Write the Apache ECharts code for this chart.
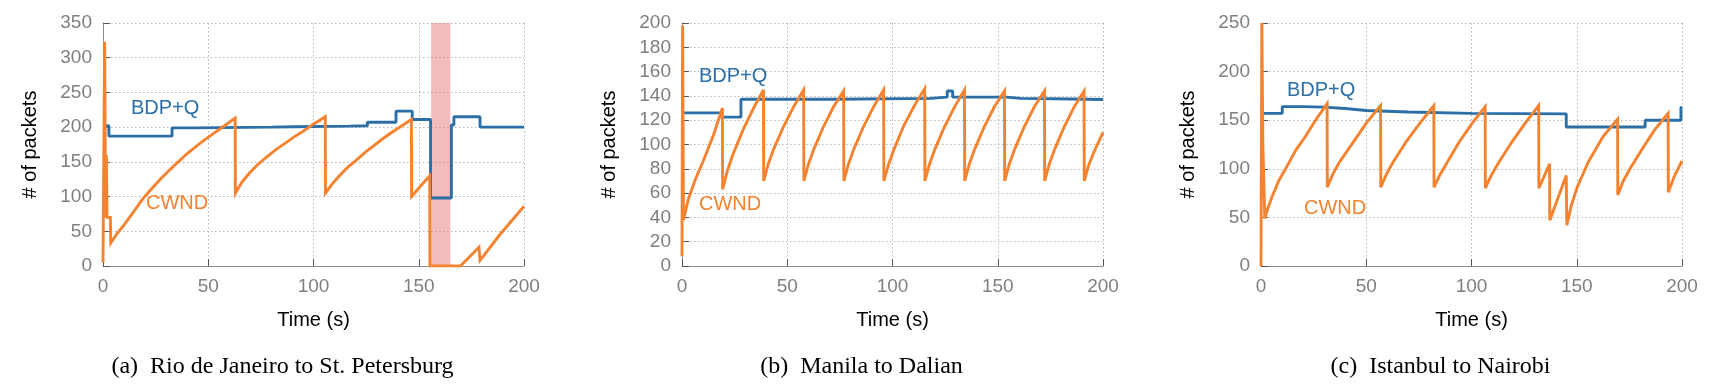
<!DOCTYPE html>
<html><head><meta charset="utf-8">
<script src="https://cdn.jsdelivr.net/npm/echarts@6/dist/echarts.min.js"></script>
<style>html,body{margin:0;padding:0;background:#fff;} #c{width:1717px;height:391px;}</style>
</head><body><div id="c"></div>
<script>
// ---- data ----
const captions = ['(a)  Rio de Janeiro to St. Petersburg', '(b)  Manila to Dalian', '(c)  Istanbul to Nairobi'];
const yMax = [350, 200, 250];
const yInterval = [50, 20, 50];
const xMax = 200;
const xInterval = 50;
const seriesNames = ['BDP+Q', 'CWND'];

// (a) Rio de Janeiro to St. Petersburg
const rioBdpQ = [[0,202],[2.8,187],[32.8,199],[43,200],[80,200.5],[91,201.5],[117,202],[125.6,207],[139.2,223],[146.9,211],[155.6,98],[165.5,203],[166.7,215],[179.1,200],[200,200]];
const rioCwnd = [[0,5],[0.8,323],[1.1,150],[1.3,70],[1.6,160],[1.9,70],[3.5,70],[3.7,33],
  [6.5,46],[10.2,60],[14.5,78],[18.7,96],[23,111],[27.2,125],[31.5,138],[35.7,150],[40,162],[44.1,172],[48.4,182],[52.6,191],[57.7,202],[62.8,213],
  [62.9,105],[66,121],[69.6,134],[73.8,147],[78.1,158],[82.3,168],[86.6,177],[90.8,186],[95.1,194],[100.3,205],[105.6,215],
  [105.7,105],[108.8,118],[112,129],[116.2,142],[120.5,153],[124.7,164],[129,174],[133.2,184],[137.5,193],[142,202],[146.5,211],
  [146.6,100],[151.1,116],[155.2,130],[155.3,0],[169.8,0],[178.6,27],[179.1,8],[188.5,45],[200,86]];
const rioLossBand = [155.9, 165.0];

// (b) Manila to Dalian
const manilaBdpQ = [[0,126],[18.5,122.5],[28,137.3],[72,138],[118,139],[126,144],[128.6,139],[154,138],[161,137.5],[185,137],[200,137]];
const manilaCwnd = [[0,8],[0.3,198],[0.7,38],[3,55],[6.5,72],[10,86],[15,108],[19.2,130],
  [19.3,63],[21.5,78],[24,91],[29,112],[34,130],[38.7,145],
  [38.8,70],[41,84],[43.5,96],[48.3,115],[53,131],[57.8,145],
  [57.9,70],[60.1,84],[62.6,96],[67.3,115],[72,131],[76.8,144],
  [76.9,70],[79.1,84],[81.6,96],[86.3,115],[91,131],[95.8,145],
  [95.9,70],[98.2,84],[100.7,96],[105.5,116],[110.4,132],[115.3,146],
  [115.4,70],[117.6,84],[120.1,96],[124.8,115],[129.5,131],[134.2,145],
  [134.3,70],[136.5,84],[139,96],[143.7,115],[148.4,131],[153.2,144],
  [153.3,70],[155.5,84],[158,96],[162.7,115],[167.4,131],[172.2,144],
  [172.3,70],[174.5,84],[177,96],[181.7,115],[186.3,131],[191,144],
  [191.1,70],[193.2,83],[195.5,93],[200,110]];

// (c) Istanbul to Nairobi
const istanbulBdpQ = [[0,157],[10.1,164],[20,163.5],[30,162],[40,160],[50,158.5],[70,157],[100,156.5],[145,143],[182.5,150],[199.5,163],[200,163]];
const istanbulCwnd = [[0,0],[0.4,250],[0.9,123],[1.2,123],[1.8,49],
  [3.5,61],[5.2,71],[8.5,88],[12.2,102],[16.5,119],[21,133],[26.2,151],[31.4,167],
  [31.5,81],[34,94],[37,106],[44,128],[50,147],[56.8,165],
  [56.9,81],[59.5,94],[62.5,106],[69,128],[75.5,147],[82.1,165],
  [82.2,81],[84.8,93],[88,105],[94,127],[100,146],[106.5,164],
  [106.6,80],[109.3,93],[112.5,105],[119,127],[125.5,147],[131.9,165],
  [132,80],[137.1,105],[137.2,47],[145,93],[145.3,42],
  [147.5,63],[150.2,81],[155.5,107],[162.4,133],[169.4,151],
  [169.5,73],[172,87],[175,99],[181,120],[187,140],[193.4,157],
  [193.5,76],[196.5,93],[200,108]];

const bdpSets = [rioBdpQ, manilaBdpQ, istanbulBdpQ];
const cwndSets = [rioCwnd, manilaCwnd, istanbulCwnd];

// ---- layout / style ----
const BLUE = '#2b6fa6';
const ORANGE = '#f4822f';
const FONT = 'Liberation Sans, Arial, sans-serif';
const gridLeft = [103, 682, 1261];
const gridTop = 23, gridW = 421, gridH = 243;
const labelPos = [
  {bdp:[131,109.5], cwnd:[146,204.5]},
  {bdp:[699,77.5], cwnd:[699,205.7]},
  {bdp:[1287,91.5], cwnd:[1304,209]}
];

const grids = [], xAxes = [], yAxes = [], series = [], graphics = [];
for (let i = 0; i < 3; i++) {
  grids.push({left: gridLeft[i], top: gridTop, width: gridW, height: gridH, containLabel: false});
  const axisCommon = {
    axisLine: {show: true, lineStyle: {color: '#8c8c8c', width: 1}},
    axisTick: {show: true, inside: true, length: 7, lineStyle: {color: '#555'}},
    splitLine: {show: true, lineStyle: {color: '#b5b5b5', type: [1.5, 2.5], width: 1}},
    axisLabel: {color: '#7f7f7f', fontSize: 19, fontFamily: FONT, margin: 11}
  };
  xAxes.push(Object.assign({
    type: 'value', gridIndex: i, min: 0, max: xMax, interval: xInterval,
    name: 'Time (s)', nameLocation: 'middle', nameGap: 44,
    nameTextStyle: {color: '#000', fontSize: 20, fontFamily: FONT}
  }, axisCommon));
  yAxes.push(Object.assign({
    type: 'value', gridIndex: i, min: 0, max: yMax[i], interval: yInterval[i],
    name: '# of packets', nameLocation: 'middle', nameGap: 63, nameRotate: 90,
    nameTextStyle: {color: '#000', fontSize: 20, fontFamily: FONT}
  }, axisCommon));
  series.push({
    name: seriesNames[0], type: 'line', xAxisIndex: i, yAxisIndex: i, step: 'end',
    data: bdpSets[i], showSymbol: false, symbol: 'none', z: 3,
    lineStyle: {color: BLUE, width: 2.9}
  });
  series.push({
    name: seriesNames[1], type: 'line', xAxisIndex: i, yAxisIndex: i,
    data: cwndSets[i], showSymbol: false, symbol: 'none', z: 4,
    lineStyle: {color: ORANGE, width: 2.9, join: 'miter', miterLimit: 4}
  });
  graphics.push({type: 'text', left: labelPos[i].bdp[0], top: labelPos[i].bdp[1] - 11, z: 10,
    style: {text: seriesNames[0], fill: BLUE, font: '20px ' + FONT}});
  graphics.push({type: 'text', left: labelPos[i].cwnd[0], top: labelPos[i].cwnd[1] - 11, z: 10,
    style: {text: seriesNames[1], fill: ORANGE, font: '20px ' + FONT}});
  graphics.push({type: 'text', x: gridLeft[i] + gridW / 2 - 31, y: 367, z: 10,
    style: {text: captions[i], fill: '#000', font: '24px "Liberation Serif", "Times New Roman", serif',
      textAlign: 'center', textVerticalAlign: 'middle'}});
}
// shaded outage band in panel (a)
series.push({
  type: 'line', xAxisIndex: 0, yAxisIndex: 0, data: [], z: 1,
  markArea: {silent: true, itemStyle: {color: 'rgba(232,120,120,0.5)'},
    data: [[{xAxis: rioLossBand[0]}, {xAxis: rioLossBand[1]}]]}
});

const chart = echarts.init(document.getElementById('c'), null, {renderer: 'canvas'});
chart.setOption({
  animation: false,
  backgroundColor: '#fff',
  grid: grids, xAxis: xAxes, yAxis: yAxes, series: series, graphic: graphics
});
</script></body></html>
